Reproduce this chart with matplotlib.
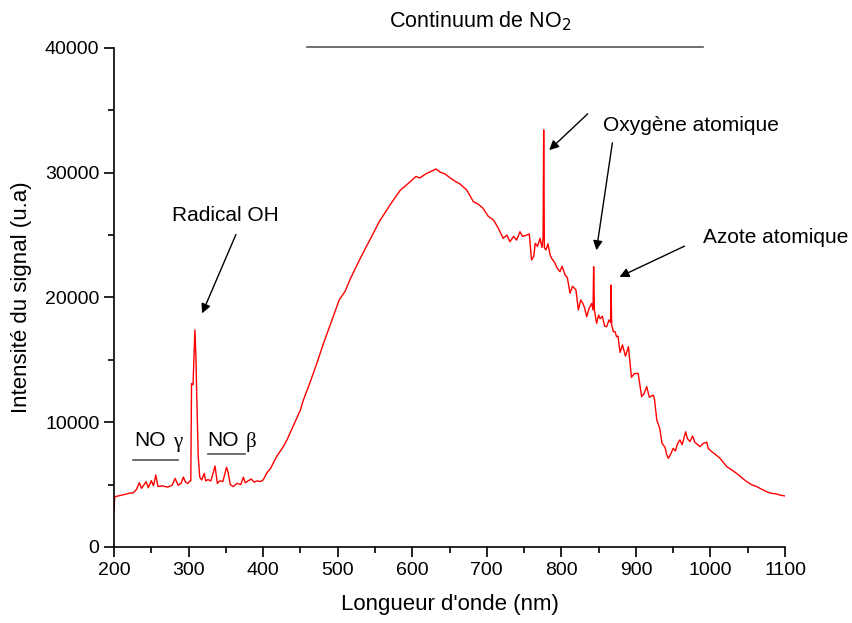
import matplotlib
matplotlib.use("Agg")
import matplotlib.pyplot as plt
from matplotlib.ticker import MultipleLocator

plt.rcParams['font.family'] = ['Liberation Sans', 'DejaVu Sans']

# spectre (longueur d'onde en nm, intensite en u.a)
wavelength = [200, 201, 210, 220, 226, 230, 234, 237, 243, 246, 250, 253, 256, 259, 265, 272,
              278, 282, 286, 290, 293, 296, 299, 302, 303, 304, 306, 308.5, 310, 311, 313, 315,
              317.6, 321, 323, 326, 330, 335.5, 338.6, 342, 346, 351, 353, 356, 360, 365, 370,
              373.5, 376, 380, 384, 388, 392, 396, 400, 405, 410, 418, 427, 432, 440, 450, 454,
              463, 472, 481, 494, 502, 510, 517, 530, 543, 556, 570, 584, 597, 605, 610, 618,
              625, 632, 637, 644, 651, 658, 664, 673, 682, 688, 695, 702, 709, 715, 722, 727,
              731, 736, 740, 744.5, 748, 753.5, 757, 760, 763, 765, 768, 771.4, 774, 775.5,
              776.3, 777.2, 779.4, 782, 785, 787, 791, 794, 798, 801, 805, 808, 811.6, 815,
              819.6, 822.8, 826, 829, 831, 834, 837, 840.7, 842.5, 843.3, 844.3, 847.3, 850,
              852, 855, 858, 860.8, 864, 866, 866.6, 867.5, 869.7, 872, 874, 876, 878.7, 882,
              886, 890, 894, 898, 903, 907.7, 911, 914.5, 918, 923.3, 925, 928, 932, 935, 939,
              941.3, 943.5, 947, 950, 953, 956, 959, 962, 966.7, 969, 972.5, 976, 979, 983,
              986, 990, 995, 997, 1001.7, 1007, 1012.8, 1017, 1021.8, 1028, 1035, 1042, 1048.6,
              1055, 1062, 1068, 1075.4, 1082, 1088.8, 1094, 1100]
intensity = [2970, 4030, 4150, 4300, 4350, 4600, 5150, 4700, 5240, 4750, 5320, 4900, 5770, 4850,
             4900, 4800, 4950, 5500, 4950, 5100, 5600, 5200, 5100, 5300, 5300, 13100, 13000,
             17400, 15000, 12050, 7240, 5600, 5370, 5900, 5300, 5400, 5300, 6490, 5100, 5300,
             5250, 6390, 6000, 5000, 4840, 5100, 5000, 5590, 5150, 5300, 5450, 5200, 5300, 5240,
             5370, 5930, 6300, 7240, 8040, 8580, 9650, 10980, 11780, 13200, 14720, 16330, 18460,
             19800, 20500, 21500, 23100, 24600, 26100, 27400, 28600, 29260, 29700, 29580, 29900,
             30100, 30300, 30060, 29900, 29580, 29300, 29100, 28620, 27680, 27500, 27150, 26500,
             26210, 25600, 24740, 25000, 24470, 24900, 24600, 25270, 24900, 25000, 25100, 23010,
             23300, 24340, 24100, 24740, 24000, 24800, 33430, 24000, 23810, 24300, 23400, 23140,
             22800, 22400, 22070, 22500, 21800, 21600, 20340, 20900, 20600, 19000, 19800, 19500,
             19200, 18460, 19100, 19530, 19000, 22470, 19000, 17930, 18600, 18300, 18500, 17700,
             17660, 18200, 18000, 21000, 17800, 17260, 17260, 16860, 16900, 15600, 16200, 15300,
             16060, 13600, 13900, 13920, 12050, 12300, 12850, 12000, 12180, 11800, 10180, 9500,
             8310, 8000, 7400, 7110, 7500, 7910, 7700, 8300, 8580, 8200, 9240, 8700, 8450, 8900,
             8400, 8200, 8040, 8300, 8400, 7900, 7640, 7400, 7110, 6800, 6440, 6200, 5900, 5550,
             5240, 5000, 4840, 4650, 4430, 4300, 4250, 4150, 4090]

fig = plt.figure(figsize=(8.52, 6.23), dpi=100)
ax = fig.add_axes([0.1338, 0.122, 0.7876, 0.801])

ax.plot(wavelength, intensity, color='red', lw=1)

ax.set_xlim(200, 1100)
ax.set_ylim(0, 40000)
ax.xaxis.set_major_locator(MultipleLocator(100))
ax.xaxis.set_minor_locator(MultipleLocator(50))
ax.yaxis.set_major_locator(MultipleLocator(10000))
ax.yaxis.set_minor_locator(MultipleLocator(5000))
ax.tick_params(which='major', direction='out', length=7, width=1.2, labelsize=14)
ax.tick_params(which='minor', direction='out', length=4, width=1.2)
ax.spines['top'].set_visible(False)
ax.spines['right'].set_visible(False)
for s in ('left', 'bottom'):
    ax.spines[s].set_linewidth(1.2)

ax.set_xlabel("Longueur d'onde (nm)", fontsize=16, labelpad=11)
ax.set_ylabel("Intensité du signal (u.a)", fontsize=16, labelpad=9)

# annotations
ax.plot([459, 990], [40100, 40100], color='#555555', lw=1.2, clip_on=False)
ax.text(691, 42150, "Continuum de NO$_2$", ha='center', va='center', fontsize=15.5)

ax.text(349, 26600, "Radical OH", ha='center', va='center', fontsize=15)
ax.annotate("", xy=(316.7, 18520), xytext=(365, 25250),
            arrowprops=dict(arrowstyle='-|>', color='black', lw=1, mutation_scale=14))

ax.text(856, 33800, "Oxygène atomique", ha='left', va='center', fontsize=15)
ax.annotate("", xy=(781, 31660), xytext=(838, 34870),
            arrowprops=dict(arrowstyle='-|>', color='black', lw=1, mutation_scale=14))
ax.annotate("", xy=(846.5, 23570), xytext=(869, 32620),
            arrowprops=dict(arrowstyle='-|>', color='black', lw=1, mutation_scale=14))

ax.text(990, 24800, "Azote atomique", ha='left', va='center', fontsize=15)
ax.annotate("", xy=(874.6, 21560), xytext=(968.5, 24210),
            arrowprops=dict(arrowstyle='-|>', color='black', lw=1, mutation_scale=14))

ax.text(227, 8500, "NO", ha='left', va='center', fontsize=15)
ax.text(279, 8350, "γ", ha='left', va='center', fontsize=15, family='Liberation Serif')
ax.plot([225.5, 286], [6970, 6970], color='#555555', lw=1.2)

ax.text(325, 8550, "NO", ha='left', va='center', fontsize=15)
ax.text(377, 8450, "β", ha='left', va='center', fontsize=15, family='Liberation Serif')
ax.plot([326, 376], [7450, 7450], color='#555555', lw=1.2)

fig.savefig("out.png", dpi=100)
